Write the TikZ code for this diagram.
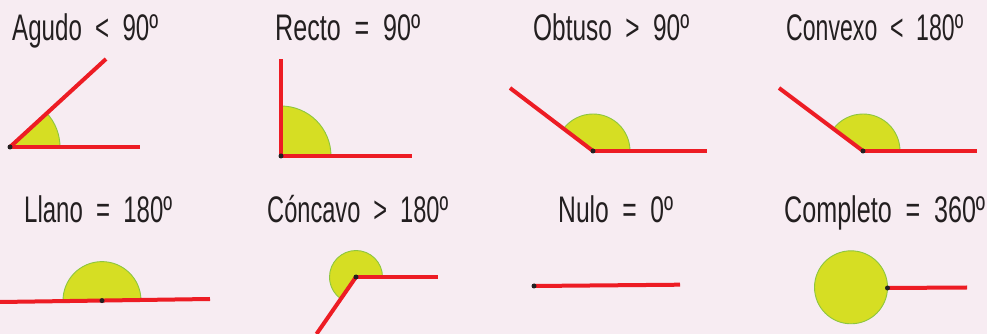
\documentclass[tikz,border=0pt]{standalone}
\usepackage{fontspec}
\setmainfont{Liberation Sans}
\usepackage{graphicx}
\definecolor{bgc}{RGB}{247,236,242}
\definecolor{rayred}{RGB}{237,28,36}
\definecolor{wedgey}{RGB}{214,222,35}
\definecolor{wedgeg}{RGB}{141,198,63}
\definecolor{dotc}{RGB}{35,31,32}
\definecolor{txtc}{RGB}{35,31,32}
\newcommand\ttlbox[2]{\resizebox{#1pt}{\height}{#2}}
\newcommand\wgap{\hspace{0.55em}}
\begin{document}
\begin{tikzpicture}[x=1pt,y=1pt,
  ray/.style={draw=rayred, line width=4pt},
  wedge/.style={fill=wedgey, draw=wedgeg, line width=0.9pt},
  vtx/.style={circle, fill=dotc, inner sep=0pt, minimum size=5pt},
  ttl/.style={anchor=base west, inner sep=0pt, text=txtc, font=\fontsize{37}{40}\selectfont}]
\fill[bgc] (0,0) rectangle (987,334);
\useasboundingbox (0,0) rectangle (987,334);

% titles
\node[ttl] (t1) at (12,293) {\ttlbox{146}{Agudo\wgap<\wgap90º}};
\node[ttl] (t2) at (275,293) {\ttlbox{145}{Recto\wgap=\wgap90º}};
\node[ttl] (t3) at (533,293) {\ttlbox{156}{Obtuso\wgap>\wgap90º}};
\node[ttl] (t4) at (786,293) {\ttlbox{177}{Convexo\wgap<\wgap180º}};
\node[ttl] (t5) at (24,111.3) {\ttlbox{148}{Llano\wgap=\wgap180º}};
\node[ttl] (t6) at (267,111.3) {\ttlbox{181}{Cóncavo\wgap>\wgap180º}};
\node[ttl] (t7) at (558,111.3) {\ttlbox{115}{Nulo\wgap=\wgap0º}};
\node[ttl] (t8) at (784,111.3) {\ttlbox{201}{Completo\wgap=\wgap360º}};

% vertices
\coordinate (c1) at (10,187);
\coordinate (c2) at (281,178);
\coordinate (c3) at (593,183);
\coordinate (c4) at (863,183);
\coordinate (c5) at (102,33.4);
\coordinate (c6) at (356,57);
\coordinate (c7) at (534,48);
\coordinate (c8) at (887.5,46);
\coordinate (cc8) at (851,46.7);

% ray ends
\coordinate (a1) at (140,187); \coordinate (b1) at (106,275);
\coordinate (a2) at (412,178); \coordinate (b2) at (281,275);
\coordinate (a3) at (707,183); \coordinate (b3) at (510,246);
\coordinate (a4) at (977,183); \coordinate (b4) at (779,246);
\coordinate (a5) at (210,35);  \coordinate (b5) at (0,32);
\coordinate (a6) at (438,57);  \coordinate (b6) at (316.5,0);
\coordinate (a7) at (680,49.3);
\coordinate (a8) at (967,46.5);

% wedges
\filldraw[wedge] (c1) -- ++(50,0) arc[start angle=0, end angle=42.5, radius=50] -- cycle;
\filldraw[wedge] (c2) -- ++(50,0) arc[start angle=0, end angle=90, radius=50] -- cycle;
\filldraw[wedge] (c3) -- ++(37,0) arc[start angle=0, end angle=142.8, radius=37] -- cycle;
\filldraw[wedge] (c4) -- ++(37,0) arc[start angle=0, end angle=143, radius=37] -- cycle;
\filldraw[wedge] (c5) -- ++(0.8:39) arc[start angle=0.8, end angle=180.8, radius=39] -- cycle;
\filldraw[wedge] (c6) -- ++(26.5,0) arc[start angle=0, end angle=235.3, radius=26.5] -- cycle;
\filldraw[wedge] (cc8) circle[radius=36.5];

% rays
\draw[ray] (c1) -- (a1); \draw[ray] (c1) -- (b1);
\draw[ray] (c2) -- (a2); \draw[ray] (c2) -- (b2);
\draw[ray] (c3) -- (a3); \draw[ray] (c3) -- (b3);
\draw[ray] (c4) -- (a4); \draw[ray] (c4) -- (b4);
\draw[ray] (b5) -- (a5);
\draw[ray] (c6) -- (a6); \draw[ray] (c6) -- (b6);
\draw[ray] (c7) -- (a7);
\draw[ray] (c8) -- (a8);

% vertex dots
\node[vtx] (v1) at (c1) {};
\node[vtx] (v2) at (c2) {};
\node[vtx] (v3) at (c3) {};
\node[vtx] (v4) at (c4) {};
\node[vtx] (v5) at (c5) {};
\node[vtx] (v6) at (c6) {};
\node[vtx] (v7) at (c7) {};
\node[vtx] (v8) at (c8) {};
\end{tikzpicture}
\end{document}
